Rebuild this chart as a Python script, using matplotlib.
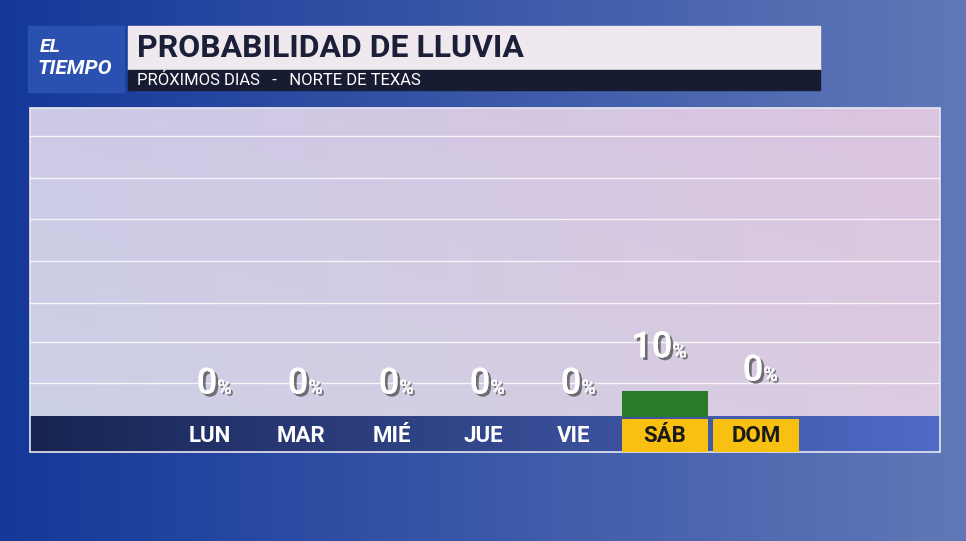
import matplotlib
matplotlib.use("Agg")
import matplotlib.pyplot as plt
import numpy as np
from matplotlib.patches import Rectangle
import matplotlib.patheffects as pe

days = ["LUN", "MAR", "MIÉ", "JUE", "VIE", "SÁB", "DOM"]
probs = [0, 0, 0, 0, 0, 10, 0]
highlight = [False, False, False, False, False, True, True]
title = "PROBABILIDAD DE LLUVIA"
subtitle = "PRÓXIMOS DIAS   -   NORTE DE TEXAS"

W, H = 966, 541
fig = plt.figure(figsize=(W/100, H/100), dpi=100)
FONT = "Roboto"

def box(x0, y0, x1, y1):
    return [x0/W, 1-y1/H, (x1-x0)/W, (y1-y0)/H]

bg = fig.add_axes([0, 0, 1, 1]); bg.axis("off")
xx, yy = np.meshgrid(np.linspace(0, 1, 200), np.linspace(0, 1, 120))
r = 0.08 + 0.30*xx
g = 0.22 + 0.25*xx
b = 0.60 + 0.12*xx
img = np.dstack([r, g, b]).clip(0, 1)
bg.imshow(img, extent=[0, 1, 0, 1], aspect="auto", origin="upper")
bg.set_xlim(0, 1); bg.set_ylim(0, 1)

px, py = np.meshgrid(np.linspace(0, 1, 100), np.linspace(0, 1, 50))
pr = 0.80 + 0.06*px
pg = 0.79 - 0.02*px + 0.03*py
pb = 0.90 - 0.02*px
bg.imshow(np.dstack([pr, pg, pb]).clip(0, 1), extent=[30/W, 940/W, 1-452/H, 1-108/H],
          aspect="auto", origin="upper", zorder=2)
bx = np.linspace(0, 1, 200)[None, :]
band = np.dstack([0.09 + 0.22*bx, 0.14 + 0.28*bx, 0.32 + 0.46*bx]).clip(0, 1)
bg.imshow(band, extent=[30/W, 940/W, 1-452/H, 1-417/H], aspect="auto", zorder=3)
bg.add_patch(Rectangle((30/W, 1-452/H), 910/W, 344/H, fill=False, ec="#e8e8f0", lw=1.2, zorder=4))
bg.set_xlim(0, 1); bg.set_ylim(0, 1)

bg.add_patch(Rectangle((28/W, 1-92/H), 96/W, 66/H, color="#2a50b0", zorder=3))
bg.add_patch(Rectangle((128/W, 1-70/H), 692/W, 44/H, color="#efe9ef", zorder=3))
bg.add_patch(Rectangle((128/W, 1-90/H), 692/W, 20/H, color="#171c33", zorder=3))
bg.text(50/W, 1-47/H, "EL", color="white", fontsize=14, style="italic", weight="bold", family=FONT, ha="center", va="center", zorder=4)
bg.text(75/W, 1-68/H, "TIEMPO", color="white", fontsize=15, style="italic", weight="bold", family=FONT, ha="center", va="center", zorder=4)
bg.text(137/W, 1-48/H, title, color="#1b2038", fontsize=23, weight="bold", family=FONT, ha="left", va="center", zorder=4)
bg.text(137/W, 1-80/H, subtitle, color="white", fontsize=12, family=FONT, ha="left", va="center", zorder=4)

ax = fig.add_axes(box(30, 108, 940, 417))
ax.patch.set_alpha(0)
x = np.arange(len(days))
ax.set_xlim((30-210)/91, (940-210)/91)
ax.set_ylim(0, 309/2.6)
for gy in [13, 29, 44, 60, 76, 92, 108]:
    ax.axhline(gy, color="white", lw=1, alpha=0.8, zorder=1)
ax.bar(x, probs, width=0.945, color="#2b7a2b", zorder=3)
for i, (xi, p) in enumerate(zip(x, probs)):
    off = 13 if p > 0 else (14 if highlight[i] else 9)
    t = ax.text(xi + 0.08, p + off, f"{p}", fontsize=26, color="white", ha="right", va="baseline",
                family=FONT, weight="medium", zorder=5)
    t.set_path_effects([pe.withSimplePatchShadow(offset=(2, -2), shadow_rgbFace="#444", alpha=0.7), pe.Normal()])
    t2 = ax.text(xi + 0.08, p + off, "%", fontsize=14, color="white", ha="left", va="baseline",
                 family=FONT, weight="medium", zorder=5)
    t2.set_path_effects([pe.withSimplePatchShadow(offset=(1.5, -1.5), shadow_rgbFace="#444", alpha=0.7), pe.Normal()])
ax.axis("off")

lab = fig.add_axes(box(30, 417, 940, 452))
lab.patch.set_alpha(0)
lab.set_xlim(ax.get_xlim()); lab.set_ylim(0, 1)
for xi, d, h in zip(x, days, highlight):
    if h:
        lab.bar(xi, 0.95, width=0.945, bottom=0.0, color="#f8c010", zorder=2)
    lab.text(xi, 0.47, d, fontsize=16, color="#1a1a1a" if h else "white", ha="center", va="center",
             family=FONT, weight="bold", zorder=3)
lab.axis("off")

fig.savefig("out.png", dpi=100)
